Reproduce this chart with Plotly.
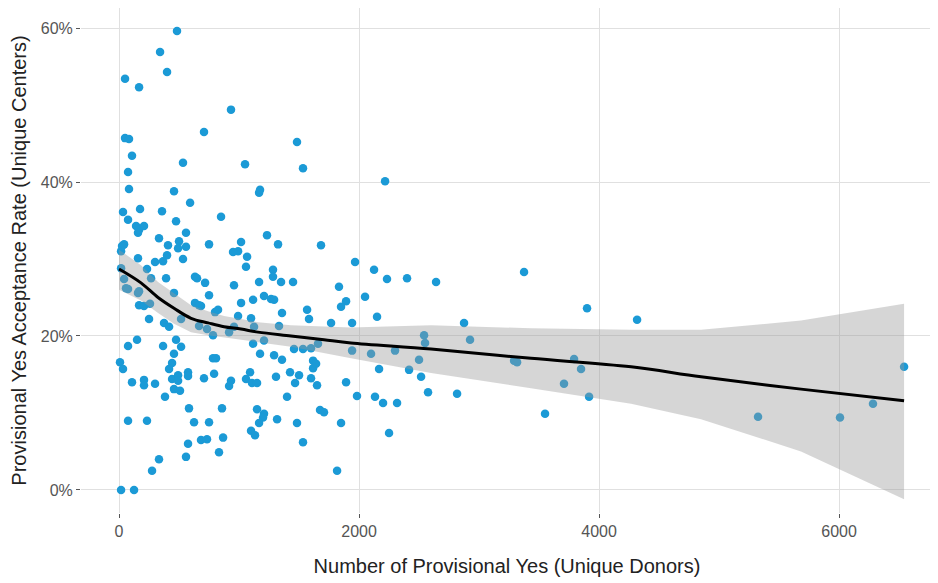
import plotly.graph_objects as go

# Scatter data: donors (x) and acceptance rate in % (y)
donors = [
    483, 342, 400, 50, 167, 933, 708, 50, 83, 108, 1483, 75, 533, 1050, 1533, 2217,
    83, 458, 1167, 1175, 592, 33, 175, 358, 75, 475, 850, 142, 167, 208, 158, 558,
    500, 333, 42, 17, 400, 533, 158, 300, 367, 233, 267, 392, 750, 558, 992, 633,
    650, 717, 683, 800, 408, 492, 958, 17, 42, 58, 75, 167, 167, 208, 258, 458,
    633, 667, 825, 250, 375, 417, 517, 667, 733, 958, 992, 750, 25,
    1017, 1233, 1325, 1683, 950, 1067, 1058, 1283, 1283, 1967, 1167, 1350, 1450, 1833,
    1208, 1267, 1292, 1117, 1017, 1892, 1850, 2050, 1358, 1567, 1583, 1767, 1942, 1100, 1333,
    1125, 1117, 1175, 1292, 1358, 1458, 1533, 1600, 1942, 1617, 1092, 1058, 1108, 1150,
    1308, 1425, 1500, 1467, 1600, 1650, 1617, 1642, 1892, 1983, 1400, 1150, 1208, 1200,
    1167, 1317, 1675, 1708, 1483, 1850, 1100, 1133, 1533, 1817,
    75, 150, 367, 475, 517, 458, 442, 417, 8, 33, 108, 208, 208, 300, 442, 492, 492,
    458, 508, 575, 575, 708, 792, 783, 808, 933, 917, 383, 583, 858, 75, 233, 625, 750,
    683, 733, 867, 575, 833, 558, 333, 275, 17, 125,
    783, 917, 1208, 1658, 158,
    2125, 2233, 2400, 2642, 2150, 3375, 2875, 2925, 2542, 2550, 2100, 2300, 2500, 2167,
    2417, 2517, 3292, 3317, 2575, 2817, 2133, 2200, 2317, 2250, 3550, 3900, 3850, 3792,
    3708, 3917, 4317, 5325, 6008, 6283, 6542,
]
rate_pct = [
    59.6, 56.9, 54.3, 53.4, 52.3, 49.4, 46.5, 45.7, 45.6, 43.4, 45.2, 41.3, 42.5, 42.3, 41.8, 40.1,
    39.1, 38.8, 38.6, 39.0, 37.3, 36.1, 36.5, 36.2, 35.1, 34.9, 35.5, 34.3, 33.8, 34.3, 33.4, 33.4,
    32.3, 32.7, 31.9, 31.0, 30.5, 30.0, 30.1, 29.6, 29.7, 28.7, 27.5, 27.5, 31.9, 31.6, 31.0, 27.7,
    27.5, 26.9, 23.9, 23.1, 31.8, 31.4, 26.6, 28.8, 27.4, 26.2, 26.1, 25.8, 24.0, 23.9, 24.2, 25.6,
    24.3, 24.0, 23.4, 22.2, 21.7, 21.2, 22.2, 21.3, 20.9, 21.2, 22.6, 25.3, 31.7,
    32.2, 33.1, 31.9, 31.8, 30.9, 30.3, 29.0, 28.6, 27.7, 29.6, 27.0, 27.0, 27.0, 26.4,
    25.2, 24.8, 24.7, 24.7, 24.3, 24.5, 23.8, 25.1, 23.0, 23.4, 22.2, 21.7, 21.7, 22.3, 21.3,
    21.2, 19.0, 17.7, 17.5, 16.9, 18.3, 18.3, 18.4, 18.1, 16.8, 15.3, 14.4, 13.9, 13.9,
    14.7, 15.3, 14.9, 13.9, 14.5, 13.6, 15.8, 16.4, 14.0, 12.2, 12.1, 10.5, 9.9, 9.4,
    8.7, 9.2, 10.4, 10.1, 8.7, 8.7, 7.7, 7.1, 6.2, 2.5,
    18.7, 19.5, 18.7, 19.5, 18.6, 17.7, 16.5, 15.7, 16.6, 15.7, 14.0, 14.3, 13.6, 13.8, 14.4, 14.9, 14.2,
    13.1, 12.9, 15.3, 14.8, 14.5, 15.1, 17.1, 17.1, 14.2, 13.5, 12.1, 10.6, 10.6, 9.0, 9.0, 8.8, 8.8,
    6.5, 6.6, 6.8, 6.0, 4.9, 4.3, 4.0, 2.5, 0.0, 0.0,
    20.1, 20.5, 19.4, 19.0, 25.6,
    28.6, 27.4, 27.5, 27.0, 22.5, 28.3, 21.7, 19.5, 20.1, 19.1, 17.7, 18.1, 16.9, 15.7,
    15.6, 14.7, 16.8, 16.6, 12.7, 12.5, 12.1, 11.3, 11.3, 7.4, 9.9, 23.6, 15.7, 17.0,
    13.8, 12.1, 22.1, 9.5, 9.4, 11.2, 16.0,
]

# Smoothed trend and its confidence band
smooth_x = [0, 183, 325, 458, 600, 742, 875, 1017, 1158, 1433, 1708, 1933, 2600, 3433, 4267, 4850, 5683, 6542]
smooth_y = [28.7, 26.9, 25.0, 23.6, 22.3, 21.7, 21.2, 20.9, 20.5, 20.0, 19.5, 19.1, 18.3, 17.1, 16.0, 14.7, 13.1, 11.6]
band_hi = [31.2, 29.2, 27.0, 25.5, 24.0, 23.2, 22.6, 22.2, 21.8, 21.4, 21.2, 21.1, 21.4, 21.0, 20.8, 20.8, 22.0, 24.2]
band_lo = [26.0, 24.6, 23.0, 21.6, 20.5, 20.1, 19.8, 19.5, 19.2, 18.6, 17.8, 17.1, 15.2, 13.2, 11.2, 9.2, 5.0, -1.2]

x_ticks = [0, 2000, 4000, 6000]
x_labels = ["0", "2000", "4000", "6000"]
y_ticks = [0, 20, 40, 60]
y_labels = ["0%", "20%", "40%", "60%"]

fig = go.Figure()
fig.add_trace(go.Scatter(
    x=donors, y=rate_pct, mode="markers",
    marker=dict(color="#1b9ad6", size=8.5, line=dict(width=0)),
    showlegend=False, hoverinfo="skip",
))
fig.add_trace(go.Scatter(
    x=smooth_x + smooth_x[::-1], y=band_hi + band_lo[::-1],
    fill="toself", fillcolor="rgba(153,153,153,0.4)", line=dict(width=0),
    mode="lines", showlegend=False, hoverinfo="skip",
))
fig.add_trace(go.Scatter(
    x=smooth_x, y=smooth_y, mode="lines", line=dict(color="black", width=3, shape="spline"),
    showlegend=False, hoverinfo="skip",
))

FONT = "Liberation Sans, Arial, sans-serif"
axis_common = dict(
    showgrid=True, gridcolor="#e0e0e0", gridwidth=1, zeroline=False,
    showline=False, ticks="outside", ticklen=4, tickcolor="#555",
    tickfont=dict(family=FONT, size=16, color="#555555"),
    automargin=False,
)
fig.update_layout(
    width=931, height=576,
    margin=dict(l=73, r=6, t=0, b=71),
    paper_bgcolor="white", plot_bgcolor="white",
    font=dict(family=FONT, color="#222222"),
    xaxis=dict(range=[-317, 6783], tickvals=x_ticks, ticktext=x_labels,
               title=dict(text="Number of Provisional Yes (Unique Donors)", font=dict(size=20), standoff=19),
               **axis_common),
    yaxis=dict(range=[-2.99, 62.6], tickvals=y_ticks, ticktext=y_labels,
               title=dict(text="Provisional Yes Acceptance Rate (Unique Centers)", font=dict(size=20), standoff=8),
               **axis_common),
)

fig.write_html("out.html")
